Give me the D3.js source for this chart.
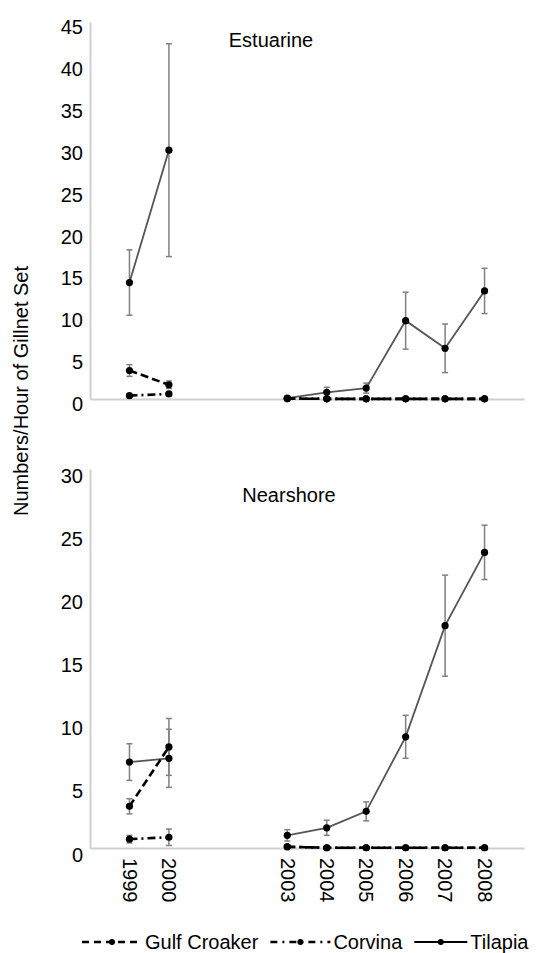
<!DOCTYPE html>
<html>
<head>
<meta charset="utf-8">
<script src="https://cdn.jsdelivr.net/npm/d3@7"></script>
<style>
  body { margin: 0; background: #fff; }
  text { font-family: "Liberation Sans", Arial, sans-serif; fill: #000; }
</style>
</head>
<body>
<div id="chart"></div>
<script>
// Years on the x axis (2001 and 2002 have no data)
var years = [1999, 2000, 2001, 2002, 2003, 2004, 2005, 2006, 2007, 2008];
var yearTicks = [1999, 2000, 2003, 2004, 2005, 2006, 2007, 2008];

// Estuarine catch rates and error bars
var tilapiaEst = [13.9, 29.7, null, null, 0.1, 0.8, 1.3, 9.35, 6.05, 12.9];
var tilapiaEstErr = [3.9, 12.7, null, null, 0.1, 0.6, 0.6, 3.4, 2.9, 2.7];
var croakerEst = [3.4, 1.7, null, null, 0.05, 0.02, 0.02, 0.02, 0.02, 0.02];
var croakerEstErr = [0.7, 0.45, null, null, 0, 0, 0, 0, 0, 0];
var corvinaEst = [0.4, 0.6, null, null, 0.05, 0.02, 0.02, 0.02, 0.02, 0.02];
var corvinaEstErr = [0.15, 0.2, null, null, 0, 0, 0, 0, 0, 0];

// Nearshore catch rates and error bars
var tilapiaNear = [6.8, 7.1, null, null, 1.0, 1.6, 2.9, 8.8, 17.6, 23.4];
var tilapiaNearErr = [1.45, 2.3, null, null, 0.45, 0.6, 0.75, 1.7, 4.0, 2.15];
var croakerNear = [3.3, 8.0, null, null, 0.1, 0.02, 0.02, 0.02, 0.02, 0.02];
var croakerNearErr = [0.6, 2.25, null, null, 0, 0, 0, 0, 0, 0];
var corvinaNear = [0.7, 0.85, null, null, 0.1, 0.02, 0.02, 0.02, 0.02, 0.02];
var corvinaNearErr = [0.3, 0.65, null, null, 0, 0, 0, 0, 0, 0];

var yTicksEst = [0, 5, 10, 15, 20, 25, 30, 35, 40, 45];
var yTicksNear = [0, 5, 10, 15, 20, 25, 30];

var seriesNames = ["Gulf Croaker", "Corvina", "Tilapia"];

var svgWidth = 544;
var svgHeight = 953;

var svg = d3.select("#chart")
  .append("svg")
  .attr("width", svgWidth)
  .attr("height", svgHeight);

// Shared x scale for both panels
var xScale = d3.scaleLinear()
  .domain([1998, 2009])
  .range([90, 524]);

// Line styles for each series
var styles = {
  "Gulf Croaker": { stroke: "#000", width: 2.6, dash: "8,4", legendDash: "7,5" },
  "Corvina": { stroke: "#000", width: 2.6, dash: "8,4,2,4", legendDash: "7,5,2,5" },
  "Tilapia": { stroke: "#555", width: 1.8, dash: null, legendDash: null }
};

var axisColor = "#cfcfcf";

function drawPanel(cfg) {
  var yScale = d3.scaleLinear()
    .domain([0, cfg.max])
    .range([cfg.bottom, cfg.top]);

  var g = svg.append("g");

  // y axis
  var yAxis = g.append("g")
    .attr("transform", "translate(90, 0)")
    .call(d3.axisLeft(yScale).tickValues(cfg.ticks).tickSize(0).tickSizeOuter(0).tickPadding(7));
  yAxis.select(".domain").attr("stroke", axisColor).attr("stroke-width", 2);
  yAxis.selectAll("text")
    .attr("font-size", 20)
    .attr("font-family", "Liberation Sans, Arial, sans-serif")
    .attr("dy", cfg.labelDy);

  // x baseline
  var xAxis = g.append("g")
    .attr("transform", `translate(0, ${cfg.bottom})`)
    .call(d3.axisBottom(xScale).tickValues(cfg.showYears ? yearTicks : []).tickSize(0).tickSizeOuter(0).tickFormat(d3.format("d")));
  xAxis.select(".domain").attr("stroke", axisColor).attr("stroke-width", 2);
  xAxis.selectAll("text")
    .attr("font-size", 20)
    .attr("font-family", "Liberation Sans, Arial, sans-serif")
    .attr("text-anchor", "start")
    .attr("transform", "rotate(90)")
    .attr("x", 10)
    .attr("y", 0)
    .attr("dy", "0.36em");

  // panel title
  g.append("text")
    .attr("x", cfg.titleX)
    .attr("y", cfg.titleY)
    .attr("text-anchor", "middle")
    .attr("font-size", 20)
    .text(cfg.title);

  var series = [
    { name: "Tilapia", values: cfg.tilapia, err: cfg.tilapiaErr },
    { name: "Gulf Croaker", values: cfg.croaker, err: cfg.croakerErr },
    { name: "Corvina", values: cfg.corvina, err: cfg.corvinaErr }
  ];

  series.forEach(function(s) {
    var pts = years.map(function(yr, i) {
      return { year: yr, v: s.values[i], e: s.err[i] };
    });
    var valid = pts.filter(function(d) { return d.v !== null; });

    // error bars
    var eb = g.append("g")
      .selectAll("g")
      .data(valid.filter(function(d) { return d.e > 0; }))
      .enter().append("g")
      .attr("stroke", "#808080")
      .attr("stroke-width", 1.5);
    eb.append("line")
      .attr("x1", function(d) { return xScale(d.year); })
      .attr("x2", function(d) { return xScale(d.year); })
      .attr("y1", function(d) { return yScale(Math.max(0, d.v - d.e)); })
      .attr("y2", function(d) { return yScale(d.v + d.e); });
    eb.append("line")
      .attr("x1", function(d) { return xScale(d.year) - 3; })
      .attr("x2", function(d) { return xScale(d.year) + 3; })
      .attr("y1", function(d) { return yScale(d.v + d.e); })
      .attr("y2", function(d) { return yScale(d.v + d.e); });
    eb.append("line")
      .attr("x1", function(d) { return xScale(d.year) - 3; })
      .attr("x2", function(d) { return xScale(d.year) + 3; })
      .attr("y1", function(d) { return yScale(Math.max(0, d.v - d.e)); })
      .attr("y2", function(d) { return yScale(Math.max(0, d.v - d.e)); });
  });

  series.forEach(function(s) {
    var pts = years.map(function(yr, i) {
      return { year: yr, v: s.values[i] };
    });
    var st = styles[s.name];
    var line = d3.line()
      .defined(function(d) { return d.v !== null; })
      .x(function(d) { return xScale(d.year); })
      .y(function(d) { return yScale(d.v); });

    g.append("path")
      .datum(pts)
      .attr("fill", "none")
      .attr("stroke", st.stroke)
      .attr("stroke-width", st.width)
      .attr("stroke-dasharray", st.dash)
      .attr("d", line);

    g.append("g")
      .selectAll("circle")
      .data(pts.filter(function(d) { return d.v !== null; }))
      .enter().append("circle")
      .attr("cx", function(d) { return xScale(d.year); })
      .attr("cy", function(d) { return yScale(d.v); })
      .attr("r", 3.6)
      .attr("fill", "#000");
  });
}

drawPanel({
  top: 22, bottom: 399, max: 45, ticks: yTicksEst, labelDy: "0.58em",
  title: "Estuarine", titleX: 271, titleY: 47, showYears: false,
  tilapia: tilapiaEst, tilapiaErr: tilapiaEstErr,
  croaker: croakerEst, croakerErr: croakerEstErr,
  corvina: corvinaEst, corvinaErr: corvinaEstErr
});

drawPanel({
  top: 469, bottom: 848, max: 30, ticks: yTicksNear, labelDy: "0.65em",
  title: "Nearshore", titleX: 289, titleY: 502, showYears: true,
  tilapia: tilapiaNear, tilapiaErr: tilapiaNearErr,
  croaker: croakerNear, croakerErr: croakerNearErr,
  corvina: corvinaNear, corvinaErr: corvinaNearErr
});

// y axis title
svg.append("text")
  .attr("transform", "translate(28, 391) rotate(-90)")
  .attr("text-anchor", "middle")
  .attr("font-size", 20)
  .text("Numbers/Hour of Gillnet Set");

// legend
var legendX = 82;
var legendY = 942;
seriesNames.forEach(function(name) {
  var st = styles[name];
  var sampleLen = name === "Tilapia" ? 53 : 60;
  var item = svg.append("g");
  item.append("line")
    .attr("x1", legendX)
    .attr("x2", legendX + sampleLen)
    .attr("y1", legendY)
    .attr("y2", legendY)
    .attr("stroke", "#000")
    .attr("stroke-width", name === "Tilapia" ? 2 : 2.4)
    .attr("stroke-dasharray", st.legendDash);
  item.append("circle")
    .attr("cx", legendX + sampleLen / 2)
    .attr("cy", legendY)
    .attr("r", 3)
    .attr("fill", "#000");
  var t = item.append("text")
    .attr("x", legendX + sampleLen + 3)
    .attr("y", legendY + 7)
    .attr("font-size", 20)
    .text(name);
  legendX += sampleLen + 3 + t.node().getComputedTextLength() + 12;
});
</script>
</body>
</html>
